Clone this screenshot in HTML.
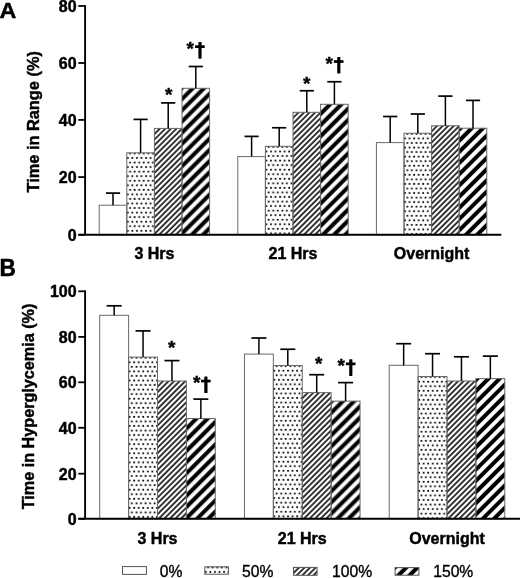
<!DOCTYPE html>
<html><head><meta charset="utf-8"><style>
html,body{margin:0;padding:0;background:#fff;}
svg{display:block;filter:grayscale(100%);}
text{font-family:"Liberation Sans", sans-serif;fill:#000;}
.b{font-size:16px;font-weight:bold;stroke:#000;stroke-width:0.45px;stroke-linejoin:round;}
.r{font-size:15.7px;stroke:#000;stroke-width:0.35px;}
.s{font-size:19.0px;font-weight:bold;stroke:#000;stroke-width:0.4px;}
.L{font-size:22.6px;font-weight:bold;stroke:#000;stroke-width:0.5px;stroke-linejoin:round;}
</style></head><body>
<svg width="520" height="578" viewBox="0 0 520 578">
<defs>
<pattern id="p1" patternUnits="userSpaceOnUse" x="126.80" y="150.80" width="4.55" height="9.1"><rect x="2.42" y="1.73" width="1.75" height="1.75" fill="#000"/><rect x="0.16" y="6.28" width="1.75" height="1.75" fill="#000"/></pattern>
<pattern id="p2" patternUnits="userSpaceOnUse" width="3.924" height="3.924" patternTransform="translate(154.40,128.40) rotate(45)"><rect x="3.253" y="0" width="0.672" height="3.924" fill="#000"/><rect x="0.000" y="0" width="0.884" height="3.924" fill="#000"/></pattern>
<pattern id="p3" patternUnits="userSpaceOnUse" width="7.920" height="7.920" patternTransform="translate(182.00,88.30) rotate(45)"><rect x="5.551" y="0" width="2.369" height="7.920" fill="#000"/><rect x="0.000" y="0" width="1.662" height="7.920" fill="#000"/></pattern>
<pattern id="p4" patternUnits="userSpaceOnUse" x="265.40" y="144.30" width="4.55" height="9.1"><rect x="2.42" y="1.73" width="1.75" height="1.75" fill="#000"/><rect x="0.16" y="6.28" width="1.75" height="1.75" fill="#000"/></pattern>
<pattern id="p5" patternUnits="userSpaceOnUse" width="3.924" height="3.924" patternTransform="translate(293.00,112.30) rotate(45)"><rect x="3.253" y="0" width="0.672" height="3.924" fill="#000"/><rect x="0.000" y="0" width="0.884" height="3.924" fill="#000"/></pattern>
<pattern id="p6" patternUnits="userSpaceOnUse" width="7.920" height="7.920" patternTransform="translate(320.60,104.30) rotate(45)"><rect x="4.702" y="0" width="3.217" height="7.920" fill="#000"/><rect x="0.000" y="0" width="0.813" height="7.920" fill="#000"/></pattern>
<pattern id="p7" patternUnits="userSpaceOnUse" x="404.00" y="131.25" width="4.55" height="9.1"><rect x="2.42" y="1.73" width="1.75" height="1.75" fill="#000"/><rect x="0.16" y="6.28" width="1.75" height="1.75" fill="#000"/></pattern>
<pattern id="p8" patternUnits="userSpaceOnUse" width="3.924" height="3.924" patternTransform="translate(431.60,125.75) rotate(45)"><rect x="3.253" y="0" width="0.672" height="3.924" fill="#000"/><rect x="0.000" y="0" width="0.884" height="3.924" fill="#000"/></pattern>
<pattern id="p9" patternUnits="userSpaceOnUse" width="7.920" height="7.920" patternTransform="translate(459.20,128.20) rotate(45)"><rect x="6.824" y="0" width="1.096" height="7.920" fill="#000"/><rect x="0.000" y="0" width="2.934" height="7.920" fill="#000"/></pattern>
<pattern id="p10" patternUnits="userSpaceOnUse" x="128.60" y="355.10" width="4.55" height="9.1"><rect x="2.42" y="1.73" width="1.75" height="1.75" fill="#000"/><rect x="0.16" y="6.28" width="1.75" height="1.75" fill="#000"/></pattern>
<pattern id="p11" patternUnits="userSpaceOnUse" width="3.924" height="3.924" patternTransform="translate(157.50,381.00) rotate(45)"><rect x="3.253" y="0" width="0.672" height="3.924" fill="#000"/><rect x="0.000" y="0" width="0.884" height="3.924" fill="#000"/></pattern>
<pattern id="p12" patternUnits="userSpaceOnUse" width="7.920" height="7.920" patternTransform="translate(186.40,418.50) rotate(45)"><rect x="5.127" y="0" width="2.793" height="7.920" fill="#000"/><rect x="0.000" y="0" width="1.237" height="7.920" fill="#000"/></pattern>
<pattern id="p13" patternUnits="userSpaceOnUse" x="273.35" y="363.50" width="4.55" height="9.1"><rect x="2.42" y="1.73" width="1.75" height="1.75" fill="#000"/><rect x="0.16" y="6.28" width="1.75" height="1.75" fill="#000"/></pattern>
<pattern id="p14" patternUnits="userSpaceOnUse" width="3.924" height="3.924" patternTransform="translate(302.25,392.60) rotate(45)"><rect x="3.253" y="0" width="0.672" height="3.924" fill="#000"/><rect x="0.000" y="0" width="0.884" height="3.924" fill="#000"/></pattern>
<pattern id="p15" patternUnits="userSpaceOnUse" width="7.920" height="7.920" patternTransform="translate(331.15,401.10) rotate(45)"><rect x="6.329" y="0" width="1.591" height="7.920" fill="#000"/><rect x="0.000" y="0" width="2.440" height="7.920" fill="#000"/></pattern>
<pattern id="p16" patternUnits="userSpaceOnUse" x="418.10" y="374.50" width="4.55" height="9.1"><rect x="2.42" y="1.73" width="1.75" height="1.75" fill="#000"/><rect x="0.16" y="6.28" width="1.75" height="1.75" fill="#000"/></pattern>
<pattern id="p17" patternUnits="userSpaceOnUse" width="3.924" height="3.924" patternTransform="translate(447.00,381.00) rotate(45)"><rect x="3.253" y="0" width="0.672" height="3.924" fill="#000"/><rect x="0.000" y="0" width="0.884" height="3.924" fill="#000"/></pattern>
<pattern id="p18" patternUnits="userSpaceOnUse" width="7.920" height="7.920" patternTransform="translate(475.90,378.60) rotate(45)"><rect x="6.894" y="0" width="1.025" height="7.920" fill="#000"/><rect x="0.000" y="0" width="3.005" height="7.920" fill="#000"/></pattern>
<pattern id="p19" patternUnits="userSpaceOnUse" x="204.80" y="564.80" width="4.55" height="9.1"><rect x="2.42" y="1.73" width="1.75" height="1.75" fill="#000"/><rect x="0.16" y="6.28" width="1.75" height="1.75" fill="#000"/></pattern>
<pattern id="p20" patternUnits="userSpaceOnUse" width="3.924" height="3.924" patternTransform="translate(293.50,567.40) rotate(45)"><rect x="3.253" y="0" width="0.672" height="3.924" fill="#000"/><rect x="0.000" y="0" width="0.884" height="3.924" fill="#000"/></pattern>
<pattern id="p21" patternUnits="userSpaceOnUse" width="7.920" height="7.920" patternTransform="translate(395.10,567.60) rotate(45)"><rect x="5.763" y="0" width="2.157" height="7.920" fill="#000"/><rect x="0.000" y="0" width="1.874" height="7.920" fill="#000"/></pattern>
</defs>
<rect width="520" height="578" fill="#fff"/>
<rect x="99.20" y="205.20" width="27.60" height="29.60" fill="#fff" stroke="#6a6a6a" stroke-width="1"/>
<rect x="126.80" y="152.80" width="27.60" height="82.00" fill="url(#p1)" stroke="#6a6a6a" stroke-width="1"/>
<rect x="154.40" y="128.40" width="27.60" height="106.40" fill="url(#p2)" stroke="#6a6a6a" stroke-width="1"/>
<rect x="182.00" y="88.30" width="27.60" height="146.50" fill="url(#p3)" stroke="#6a6a6a" stroke-width="1"/>
<rect x="237.80" y="156.60" width="27.60" height="78.20" fill="#fff" stroke="#6a6a6a" stroke-width="1"/>
<rect x="265.40" y="146.30" width="27.60" height="88.50" fill="url(#p4)" stroke="#6a6a6a" stroke-width="1"/>
<rect x="293.00" y="112.30" width="27.60" height="122.50" fill="url(#p5)" stroke="#6a6a6a" stroke-width="1"/>
<rect x="320.60" y="104.30" width="27.60" height="130.50" fill="url(#p6)" stroke="#6a6a6a" stroke-width="1"/>
<rect x="376.40" y="142.60" width="27.60" height="92.20" fill="#fff" stroke="#6a6a6a" stroke-width="1"/>
<rect x="404.00" y="133.25" width="27.60" height="101.55" fill="url(#p7)" stroke="#6a6a6a" stroke-width="1"/>
<rect x="431.60" y="125.75" width="27.60" height="109.05" fill="url(#p8)" stroke="#6a6a6a" stroke-width="1"/>
<rect x="459.20" y="128.20" width="27.60" height="106.60" fill="url(#p9)" stroke="#6a6a6a" stroke-width="1"/>
<line x1="113.00" y1="205.20" x2="113.00" y2="193.10" stroke="#000" stroke-width="1.5"/>
<line x1="105.90" y1="193.10" x2="120.10" y2="193.10" stroke="#000" stroke-width="1.7"/>
<line x1="140.60" y1="152.80" x2="140.60" y2="119.40" stroke="#000" stroke-width="1.5"/>
<line x1="133.50" y1="119.40" x2="147.70" y2="119.40" stroke="#000" stroke-width="1.7"/>
<line x1="168.20" y1="128.40" x2="168.20" y2="102.90" stroke="#000" stroke-width="1.5"/>
<line x1="161.10" y1="102.90" x2="175.30" y2="102.90" stroke="#000" stroke-width="1.7"/>
<line x1="195.80" y1="88.30" x2="195.80" y2="66.50" stroke="#000" stroke-width="1.5"/>
<line x1="188.70" y1="66.50" x2="202.90" y2="66.50" stroke="#000" stroke-width="1.7"/>
<line x1="251.60" y1="156.60" x2="251.60" y2="136.40" stroke="#000" stroke-width="1.5"/>
<line x1="244.50" y1="136.40" x2="258.70" y2="136.40" stroke="#000" stroke-width="1.7"/>
<line x1="279.20" y1="146.30" x2="279.20" y2="127.75" stroke="#000" stroke-width="1.5"/>
<line x1="272.10" y1="127.75" x2="286.30" y2="127.75" stroke="#000" stroke-width="1.7"/>
<line x1="306.80" y1="112.30" x2="306.80" y2="90.75" stroke="#000" stroke-width="1.5"/>
<line x1="299.70" y1="90.75" x2="313.90" y2="90.75" stroke="#000" stroke-width="1.7"/>
<line x1="334.40" y1="104.30" x2="334.40" y2="81.75" stroke="#000" stroke-width="1.5"/>
<line x1="327.30" y1="81.75" x2="341.50" y2="81.75" stroke="#000" stroke-width="1.7"/>
<line x1="390.20" y1="142.60" x2="390.20" y2="116.50" stroke="#000" stroke-width="1.5"/>
<line x1="383.10" y1="116.50" x2="397.30" y2="116.50" stroke="#000" stroke-width="1.7"/>
<line x1="417.80" y1="133.25" x2="417.80" y2="114.00" stroke="#000" stroke-width="1.5"/>
<line x1="410.70" y1="114.00" x2="424.90" y2="114.00" stroke="#000" stroke-width="1.7"/>
<line x1="445.40" y1="125.75" x2="445.40" y2="96.10" stroke="#000" stroke-width="1.5"/>
<line x1="438.30" y1="96.10" x2="452.50" y2="96.10" stroke="#000" stroke-width="1.7"/>
<line x1="473.00" y1="128.20" x2="473.00" y2="100.40" stroke="#000" stroke-width="1.5"/>
<line x1="465.90" y1="100.40" x2="480.10" y2="100.40" stroke="#000" stroke-width="1.7"/>
<line x1="85.10" y1="5.10" x2="85.10" y2="234.80" stroke="#000" stroke-width="1.9"/>
<line x1="78.4" y1="234.80" x2="501.30" y2="234.80" stroke="#000" stroke-width="2"/>
<line x1="78.3" y1="234.80" x2="85.10" y2="234.80" stroke="#000" stroke-width="1.8"/>
<text x="76.6" y="240.70" text-anchor="end" class="b">0</text>
<line x1="78.3" y1="177.10" x2="85.10" y2="177.10" stroke="#000" stroke-width="1.8"/>
<text x="76.6" y="183.00" text-anchor="end" class="b">20</text>
<line x1="78.3" y1="119.90" x2="85.10" y2="119.90" stroke="#000" stroke-width="1.8"/>
<text x="76.6" y="125.80" text-anchor="end" class="b">40</text>
<line x1="78.3" y1="63.00" x2="85.10" y2="63.00" stroke="#000" stroke-width="1.8"/>
<text x="76.6" y="68.90" text-anchor="end" class="b">60</text>
<line x1="78.3" y1="6.00" x2="85.10" y2="6.00" stroke="#000" stroke-width="1.8"/>
<text x="76.6" y="11.90" text-anchor="end" class="b">80</text>
<text x="154.40" y="258.90" text-anchor="middle" class="b">3 Hrs</text>
<text x="293.00" y="258.90" text-anchor="middle" class="b">21 Hrs</text>
<text x="431.60" y="258.90" text-anchor="middle" class="b">Overnight</text>
<text transform="translate(38.8,121.80) rotate(-90)" text-anchor="middle" class="b" style="font-size:16.35px">Time in Range (%)</text>
<text x="164.90" y="100.60" class="s">*</text>
<text x="186.60" y="54.50" class="s">*</text>
<rect x="198.40" y="42.00" width="3.2" height="16.7" rx="0.6" fill="#000"/>
<rect x="195.10" y="45.30" width="9.6" height="2.7" fill="#000"/>
<text x="303.00" y="89.70" class="s">*</text>
<text x="325.50" y="69.50" class="s">*</text>
<rect x="337.20" y="56.90" width="3.2" height="16.7" rx="0.6" fill="#000"/>
<rect x="333.90" y="60.20" width="9.6" height="2.7" fill="#000"/>
<rect x="99.70" y="315.30" width="28.90" height="203.50" fill="#fff" stroke="#6a6a6a" stroke-width="1"/>
<rect x="128.60" y="357.10" width="28.90" height="161.70" fill="url(#p10)" stroke="#6a6a6a" stroke-width="1"/>
<rect x="157.50" y="381.00" width="28.90" height="137.80" fill="url(#p11)" stroke="#6a6a6a" stroke-width="1"/>
<rect x="186.40" y="418.50" width="28.90" height="100.30" fill="url(#p12)" stroke="#6a6a6a" stroke-width="1"/>
<rect x="244.45" y="354.10" width="28.90" height="164.70" fill="#fff" stroke="#6a6a6a" stroke-width="1"/>
<rect x="273.35" y="365.50" width="28.90" height="153.30" fill="url(#p13)" stroke="#6a6a6a" stroke-width="1"/>
<rect x="302.25" y="392.60" width="28.90" height="126.20" fill="url(#p14)" stroke="#6a6a6a" stroke-width="1"/>
<rect x="331.15" y="401.10" width="28.90" height="117.70" fill="url(#p15)" stroke="#6a6a6a" stroke-width="1"/>
<rect x="389.20" y="365.30" width="28.90" height="153.50" fill="#fff" stroke="#6a6a6a" stroke-width="1"/>
<rect x="418.10" y="376.50" width="28.90" height="142.30" fill="url(#p16)" stroke="#6a6a6a" stroke-width="1"/>
<rect x="447.00" y="381.00" width="28.90" height="137.80" fill="url(#p17)" stroke="#6a6a6a" stroke-width="1"/>
<rect x="475.90" y="378.60" width="28.90" height="140.20" fill="url(#p18)" stroke="#6a6a6a" stroke-width="1"/>
<line x1="114.15" y1="315.30" x2="114.15" y2="305.80" stroke="#000" stroke-width="1.5"/>
<line x1="106.65" y1="305.80" x2="121.65" y2="305.80" stroke="#000" stroke-width="1.7"/>
<line x1="143.05" y1="357.10" x2="143.05" y2="330.90" stroke="#000" stroke-width="1.5"/>
<line x1="135.55" y1="330.90" x2="150.55" y2="330.90" stroke="#000" stroke-width="1.7"/>
<line x1="171.95" y1="381.00" x2="171.95" y2="360.60" stroke="#000" stroke-width="1.5"/>
<line x1="164.45" y1="360.60" x2="179.45" y2="360.60" stroke="#000" stroke-width="1.7"/>
<line x1="200.85" y1="418.50" x2="200.85" y2="399.10" stroke="#000" stroke-width="1.5"/>
<line x1="193.35" y1="399.10" x2="208.35" y2="399.10" stroke="#000" stroke-width="1.7"/>
<line x1="258.90" y1="354.10" x2="258.90" y2="338.00" stroke="#000" stroke-width="1.5"/>
<line x1="251.40" y1="338.00" x2="266.40" y2="338.00" stroke="#000" stroke-width="1.7"/>
<line x1="287.80" y1="365.50" x2="287.80" y2="349.25" stroke="#000" stroke-width="1.5"/>
<line x1="280.30" y1="349.25" x2="295.30" y2="349.25" stroke="#000" stroke-width="1.7"/>
<line x1="316.70" y1="392.60" x2="316.70" y2="374.70" stroke="#000" stroke-width="1.5"/>
<line x1="309.20" y1="374.70" x2="324.20" y2="374.70" stroke="#000" stroke-width="1.7"/>
<line x1="345.60" y1="401.10" x2="345.60" y2="382.60" stroke="#000" stroke-width="1.5"/>
<line x1="338.10" y1="382.60" x2="353.10" y2="382.60" stroke="#000" stroke-width="1.7"/>
<line x1="403.65" y1="365.30" x2="403.65" y2="343.70" stroke="#000" stroke-width="1.5"/>
<line x1="396.15" y1="343.70" x2="411.15" y2="343.70" stroke="#000" stroke-width="1.7"/>
<line x1="432.55" y1="376.50" x2="432.55" y2="353.70" stroke="#000" stroke-width="1.5"/>
<line x1="425.05" y1="353.70" x2="440.05" y2="353.70" stroke="#000" stroke-width="1.7"/>
<line x1="461.45" y1="381.00" x2="461.45" y2="356.80" stroke="#000" stroke-width="1.5"/>
<line x1="453.95" y1="356.80" x2="468.95" y2="356.80" stroke="#000" stroke-width="1.7"/>
<line x1="490.35" y1="378.60" x2="490.35" y2="356.10" stroke="#000" stroke-width="1.5"/>
<line x1="482.85" y1="356.10" x2="497.85" y2="356.10" stroke="#000" stroke-width="1.7"/>
<line x1="85.10" y1="290.40" x2="85.10" y2="518.80" stroke="#000" stroke-width="1.9"/>
<line x1="78.4" y1="518.80" x2="521.00" y2="518.80" stroke="#000" stroke-width="2"/>
<line x1="78.3" y1="518.80" x2="85.10" y2="518.80" stroke="#000" stroke-width="1.8"/>
<text x="76.6" y="524.70" text-anchor="end" class="b">0</text>
<line x1="78.3" y1="473.70" x2="85.10" y2="473.70" stroke="#000" stroke-width="1.8"/>
<text x="76.6" y="479.60" text-anchor="end" class="b">20</text>
<line x1="78.3" y1="427.80" x2="85.10" y2="427.80" stroke="#000" stroke-width="1.8"/>
<text x="76.6" y="433.70" text-anchor="end" class="b">40</text>
<line x1="78.3" y1="382.30" x2="85.10" y2="382.30" stroke="#000" stroke-width="1.8"/>
<text x="76.6" y="388.20" text-anchor="end" class="b">60</text>
<line x1="78.3" y1="336.90" x2="85.10" y2="336.90" stroke="#000" stroke-width="1.8"/>
<text x="76.6" y="342.80" text-anchor="end" class="b">80</text>
<line x1="78.3" y1="291.30" x2="85.10" y2="291.30" stroke="#000" stroke-width="1.8"/>
<text x="76.6" y="297.20" text-anchor="end" class="b">100</text>
<text x="157.50" y="543.80" text-anchor="middle" class="b">3 Hrs</text>
<text x="302.25" y="543.80" text-anchor="middle" class="b">21 Hrs</text>
<text x="447.00" y="543.80" text-anchor="middle" class="b">Overnight</text>
<text transform="translate(34.3,406.45) rotate(-90)" text-anchor="middle" class="b" style="font-size:16.2px">Time in Hyperglycemia (%)</text>
<text x="167.90" y="354.40" class="s">*</text>
<text x="193.00" y="389.30" class="s">*</text>
<rect x="204.30" y="376.40" width="3.2" height="16.7" rx="0.6" fill="#000"/>
<rect x="201.00" y="379.70" width="9.6" height="2.7" fill="#000"/>
<text x="315.10" y="370.20" class="s">*</text>
<text x="337.60" y="372.10" class="s">*</text>
<rect x="349.20" y="359.20" width="3.2" height="16.7" rx="0.6" fill="#000"/>
<rect x="345.90" y="362.50" width="9.6" height="2.7" fill="#000"/>
<text transform="translate(-0.4,17.75) scale(1.03,1.01)" class="L">A</text>
<text transform="translate(-0.6,275.6) scale(1,1.07)" class="L">B</text>
<rect x="122.50" y="566.60" width="23.90" height="7.80" fill="#fff" stroke="#555" stroke-width="1"/>
<text x="159.70" y="576.9" class="r">0%</text>
<rect x="204.80" y="566.80" width="23.60" height="7.40" fill="url(#p19)" stroke="#555" stroke-width="1"/>
<text x="242.10" y="576.9" class="r">50%</text>
<rect x="293.50" y="567.40" width="23.60" height="7.90" fill="url(#p20)" stroke="#555" stroke-width="1"/>
<text x="332.10" y="576.9" class="r">100%</text>
<rect x="395.10" y="567.60" width="23.80" height="7.60" fill="url(#p21)" stroke="#555" stroke-width="1"/>
<text x="433.20" y="576.9" class="r">150%</text>
</svg>
</body></html>
